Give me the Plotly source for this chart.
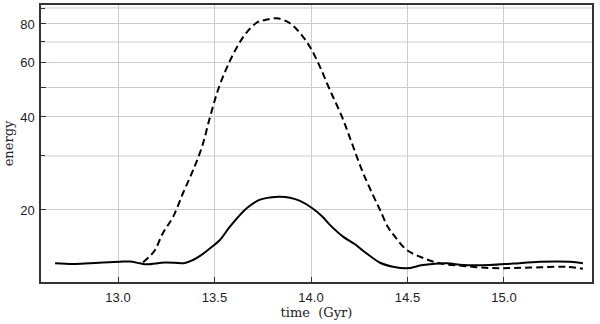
import plotly.graph_objects as go

# time (Gyr) / energy
solid_t = [12.674, 12.767, 12.855, 13.010, 13.062, 13.114, 13.150, 13.244, 13.347,
           13.389, 13.425, 13.477, 13.528, 13.580, 13.668, 13.736, 13.788, 13.839,
           13.891, 13.943, 14.005, 14.057, 14.098, 14.166, 14.228, 14.280, 14.358,
           14.425, 14.497, 14.580, 14.705, 14.788, 14.927, 15.047, 15.187, 15.342,
           15.409]
solid_e = [13.44, 13.37, 13.44, 13.60, 13.62, 13.44, 13.34, 13.52, 13.48,
           13.78, 14.2, 15.04, 16.0, 17.66, 20.3, 21.6, 21.96, 22.08,
           21.9, 21.4, 20.3, 19.1, 17.9, 16.4, 15.5, 14.6, 13.5,
           13.1, 12.95, 13.27, 13.44, 13.27, 13.27, 13.42, 13.6, 13.6,
           13.44]

dash_t = [13.130, 13.166, 13.192, 13.233, 13.285, 13.337, 13.389, 13.435, 13.477,
          13.518, 13.565, 13.617, 13.668, 13.725, 13.762, 13.824, 13.891, 13.943,
          13.995, 14.047, 14.098, 14.161, 14.212, 14.264, 14.316, 14.358, 14.399,
          14.435, 14.497, 14.580, 14.668, 14.788, 14.927, 15.047, 15.187, 15.326,
          15.409]
dash_e = [13.55, 14.2, 14.84, 16.86, 18.98, 22.7, 26.9, 32.0, 40.0,
          48.9, 58.0, 67.4, 75.3, 81.2, 82.4, 83.4, 80.4, 74.8,
          67.4, 58.0, 48.9, 40.0, 32.9, 26.9, 22.7, 20.0, 17.6,
          16.4, 14.84, 14.0, 13.44, 13.18, 12.98, 12.98, 13.05, 13.1,
          12.9]

x_ticks = [13.0, 13.5, 14.0, 14.5, 15.0]
y_ticks = [20, 40, 50, 60, 80]
y_ticktext = ["20", "40", "", "60", "80"]
y_minor = [30, 70, 90]

fig = go.Figure()
fig.add_trace(go.Scatter(x=dash_t, y=dash_e, mode="lines", line_shape="spline",
                         line=dict(color="black", width=2, dash="7px,4px")))
fig.add_trace(go.Scatter(x=solid_t, y=solid_e, mode="lines", line_shape="spline",
                         line=dict(color="black", width=2)))

tickfont = dict(family="Liberation Sans", size=13, color="#222")
titlefont = dict(family="DejaVu Serif", size=13, color="#222")

fig.update_xaxes(range=[12.601, 15.456], tickvals=x_ticks,
                 ticktext=[f"{v:.1f}" for v in x_ticks],
                 ticks="inside", ticklen=5, tickcolor="#333",
                 showline=True, linecolor="#333", linewidth=1.5, mirror=True,
                 showgrid=True, gridcolor="#cccccc", gridwidth=1, zeroline=False,
                 tickfont=tickfont, automargin=False, ticklabelstandoff=3,
                 title=dict(text="time  (Gyr)", font=titlefont, standoff=3))
fig.update_yaxes(type="log", range=[1.068, 1.9644], tickvals=y_ticks,
                 ticktext=y_ticktext,
                 ticks="inside", ticklen=5, tickcolor="#333",
                 showline=True, linecolor="#333", linewidth=1.5, mirror=True,
                 showgrid=True, gridcolor="#cccccc", gridwidth=1, zeroline=False,
                 minor=dict(tickvals=y_minor, ticks="inside", ticklen=4,
                            tickcolor="#333", showgrid=True,
                            gridcolor="#e6e6e6", gridwidth=2),
                 tickfont=tickfont, automargin=False, ticklabelstandoff=2,
                 title=dict(text="energy", font=titlefont, standoff=4))
fig.update_layout(width=600, height=324, showlegend=False,
                  margin=dict(l=41, r=8, t=5, b=42),
                  plot_bgcolor="white", paper_bgcolor="white")
# page body has a default 8px margin; drop it so the figure sits at 0,0
fig.write_html("out.html", config={"displayModeBar": False},
               post_script="document.body.style.margin='0';"
                           "document.body.style.overflow='hidden';")
